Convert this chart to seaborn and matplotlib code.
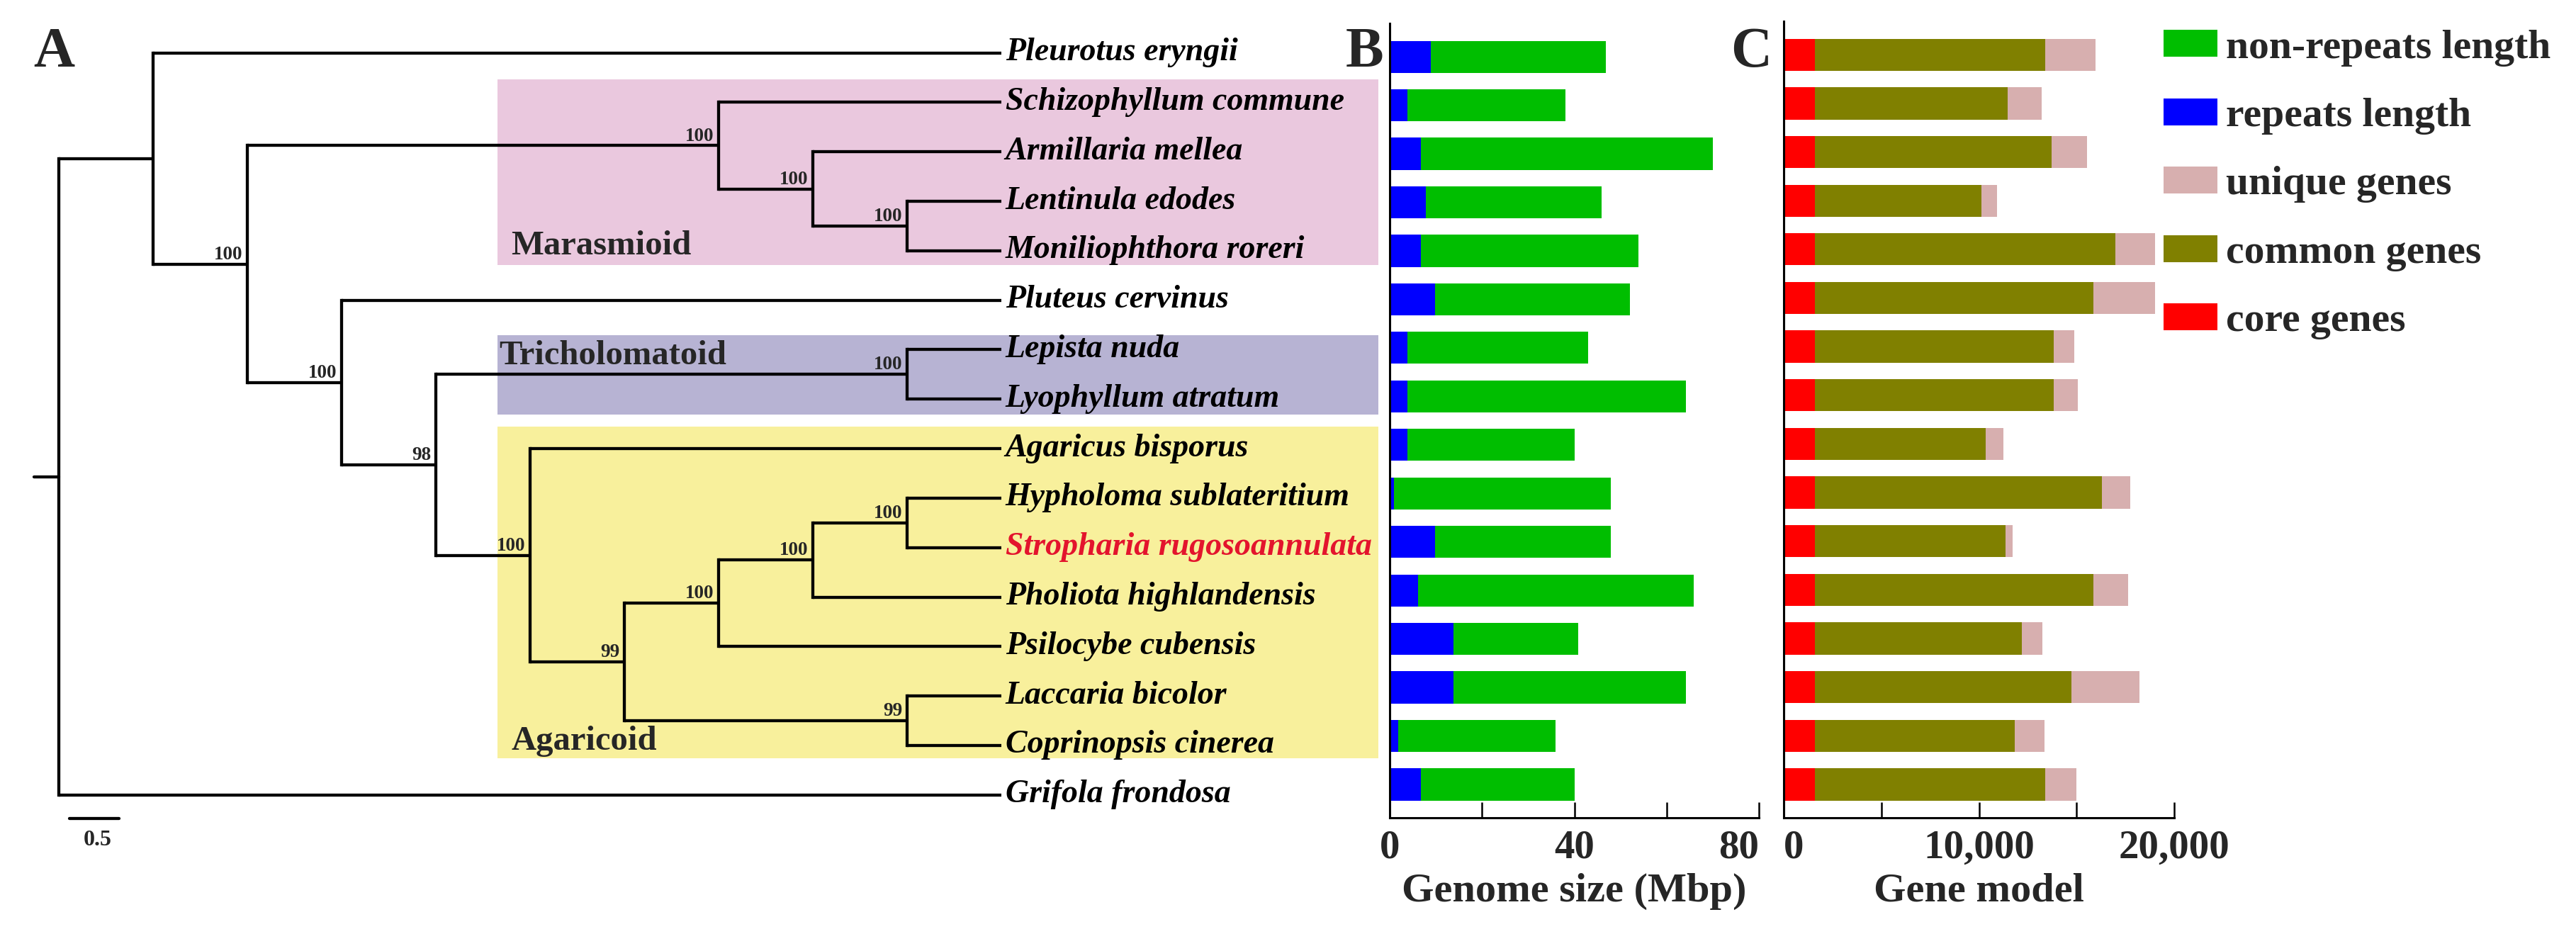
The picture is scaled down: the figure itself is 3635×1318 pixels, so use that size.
import re
import numpy as np
import pandas as pd
import matplotlib
matplotlib.use("Agg")
import matplotlib.pyplot as plt
from matplotlib.patches import Rectangle, Patch
import seaborn as sns

# ---------------- data ----------------
newick = ("((Pleurotus eryngii,((Schizophyllum commune,(Armillaria mellea,"
          "(Lentinula edodes,Moniliophthora roreri)100)100)100,(Pluteus cervinus,"
          "((Lepista nuda,Lyophyllum atratum)100,(Agaricus bisporus,"
          "((((Hypholoma sublateritium,Stropharia rugosoannulata)100,"
          "Pholiota highlandensis)100,Psilocybe cubensis)100,"
          "(Laccaria bicolor,Coprinopsis cinerea)99)99)100)98)100)100),"
          "Grifola frondosa);")

species = ["Pleurotus eryngii", "Schizophyllum commune", "Armillaria mellea",
           "Lentinula edodes", "Moniliophthora roreri", "Pluteus cervinus",
           "Lepista nuda", "Lyophyllum atratum", "Agaricus bisporus",
           "Hypholoma sublateritium", "Stropharia rugosoannulata",
           "Pholiota highlandensis", "Psilocybe cubensis", "Laccaria bicolor",
           "Coprinopsis cinerea", "Grifola frondosa"]

repeats_length = [9.0, 3.9, 6.8, 7.9, 6.8, 9.8, 3.9, 3.9, 3.9, 1.0, 9.8, 6.1, 13.9, 13.9, 1.8, 6.8]
non_repeats_length = [37.8, 34.1, 63.2, 38.0, 47.1, 42.2, 39.1, 60.2, 36.1, 46.9, 38.1, 59.8, 27.0, 50.2, 34.2, 33.2]

core_genes = [1610] * 16
common_genes = [11760, 9869, 12116, 8500, 15376, 14253, 12226, 12226, 8746, 14664, 9760, 14253, 10582, 13130, 10226, 11787]
unique_genes = [2575, 1726, 1808, 822, 2028, 3151, 1041, 1232, 904, 1479, 356, 1753, 1041, 3479, 1506, 1589]

clade_names = ["Marasmioid", "Tricholomatoid", "Agaricoid"]
clade_first = ["Schizophyllum commune", "Lepista nuda", "Agaricus bisporus"]
clade_last = ["Moniliophthora roreri", "Lyophyllum atratum", "Coprinopsis cinerea"]
highlight_species = "Stropharia rugosoannulata"

legend_labels = ["non-repeats length", "repeats length", "unique genes",
                 "common genes", "core genes"]
b_ticks = [0, 40, 80]
b_ticklabels = ["0", "40", "80"]
c_ticks = [0, 10000, 20000]
c_ticklabels = ["0", "10,000", "20,000"]
scale_bar_label = "0.5"

# ---------------- styles ----------------
GREEN = "#00BE00"
BLUE = "#0000FF"
PINK = "#D7AFAF"
OLIVE = "#808000"
RED = "#FF0000"
HIGHLIGHT = "#E3142D"
clade_colors = ["#EAC8DE", "#B7B3D3", "#F8F09C"]

sns.set_theme(style="white")
plt.rcParams["font.family"] = ["Liberation Serif", "DejaVu Serif"]

W, H = 1568.0, 569.0  # layout reference units


def fx(v):
    return v / W


def fy(v):
    return 1 - v / H


fig = plt.figure(figsize=(36.35, 13.18), dpi=100, facecolor="white")

# ---------------- tree ----------------
def parse_newick(s):
    s = s.strip().rstrip(";")
    pos = 0

    def node():
        nonlocal pos
        if s[pos] == "(":
            pos += 1
            children = [node()]
            while s[pos] == ",":
                pos += 1
                children.append(node())
            pos += 1  # ')'
            lab = re.match(r"[^,()]*", s[pos:]).group(0)
            pos += len(lab)
            return {"children": children, "support": lab.strip() or None}
        name = re.match(r"[^,()]+", s[pos:]).group(0)
        pos += len(name)
        return {"name": name.strip(), "children": []}

    return node()


root = parse_newick(newick)
tips = []


def assign(n):
    if not n["children"]:
        n["y"] = len(tips)
        tips.append(n["name"])
        n["h"] = 0
    else:
        for c in n["children"]:
            assign(c)
        n["y"] = (n["children"][0]["y"] + n["children"][-1]["y"]) / 2
        n["h"] = 1 + max(c["h"] for c in n["children"])


assign(root)
MAXH = root["h"]


def setx(n):
    n["x"] = MAXH - n["h"]
    for c in n["children"]:
        setx(c)


setx(root)

# axes mapping: level 0 -> 35.8 units, 57.38 units per level; row0 -> 32.2, 30.14 per row
X0, XS, Y0, YS = 35.8, 57.38, 32.2, 30.14
axt = fig.add_axes([0, 0, 1, 1])
axt.set_xlim(-X0 / XS, (W - X0) / XS)
axt.set_ylim((H - Y0) / YS, -Y0 / YS)
axt.axis("off")

LW = 3.1
row_of = {s: i for i, s in enumerate(tips)}

# clade boxes
box_left, box_right = 4.65, 14.0
top_pads = [0.46, 0.30, 0.44]
bot_pads = [0.29, 0.31, 0.26]
label_dx = [0.15, 0.02, 0.15]
label_y = [row_of[clade_last[0]] + 0.08, row_of[clade_first[1]] + 0.30,
           row_of[clade_last[2]] + 0.09]
for i, name in enumerate(clade_names):
    top = row_of[clade_first[i]] - top_pads[i]
    bot = row_of[clade_last[i]] + bot_pads[i]
    axt.add_patch(Rectangle((box_left, top), box_right - box_left, bot - top,
                            facecolor=clade_colors[i], edgecolor="none", zorder=0))
    axt.text(box_left + label_dx[i], label_y[i], name, fontsize=35,
             fontweight="bold", ha="left", va="baseline", zorder=3)


def draw(n):
    if not n["children"]:
        return
    ys = [c["y"] for c in n["children"]]
    axt.plot([n["x"], n["x"]], [min(ys), max(ys)], color="black", lw=LW,
             solid_capstyle="projecting", zorder=2)
    for c in n["children"]:
        axt.plot([n["x"], c["x"]], [c["y"], c["y"]], color="black", lw=LW,
                 solid_capstyle="butt", zorder=2)
        draw(c)
    if n.get("support"):
        axt.text(n["x"] - 0.05, n["y"] - 0.1, n["support"], fontsize=19.5,
                 fontweight="bold", ha="right", va="baseline", zorder=3)


draw(root)
# root stub
axt.plot([-0.265, root["x"]], [root["y"], root["y"]], color="black", lw=LW, zorder=2)

# tip labels
for name in tips:
    axt.text(MAXH + 0.04, row_of[name] + 0.15, name, fontsize=33,
             fontweight="bold", fontstyle="italic", ha="left", va="baseline",
             color=HIGHLIGHT if name == highlight_species else "black", zorder=3)

# scale bar
axt.plot([0.115, 0.64], [15.48, 15.48], color="black", lw=LW)
axt.text(0.41, 16.02, scale_bar_label, fontsize=23, fontweight="bold",
         ha="center", va="baseline")

# ---------------- bar data frames ----------------
dfB = pd.DataFrame({"species": species,
                    "repeats": repeats_length,
                    "nonrepeats": non_repeats_length})
dfB["total"] = dfB["repeats"] + dfB["nonrepeats"]

dfC = pd.DataFrame({"species": species, "core": core_genes,
                    "common": common_genes, "unique": unique_genes})
dfC["core_common"] = dfC["core"] + dfC["common"]
dfC["total"] = dfC["core_common"] + dfC["unique"]

BAR_W = 0.66
YLIM = (15.68, -0.683)


def style_axis(ax, xlim, ticks, ticklabels, minor, xlabel):
    ax.set_xlim(*xlim)
    ax.set_ylim(*YLIM)
    ax.set_xticks(ticks)
    ax.set_xticklabels(ticklabels)
    ax.set_xticks(minor, minor=True)
    ax.tick_params(axis="x", which="both", direction="in", length=16, width=1.8,
                   color="black", bottom=True, pad=12)
    ax.tick_params(axis="y", left=False, labelleft=False)
    for lbl in ax.get_xticklabels():
        lbl.set_fontsize(41)
        lbl.set_fontweight("bold")
    ax.set_xlabel(xlabel, fontsize=42, fontweight="bold", labelpad=7)
    ax.set_ylabel("")
    for s in ["top", "right"]:
        ax.spines[s].set_visible(False)
    for s in ["left", "bottom"]:
        ax.spines[s].set_color("black")
        ax.spines[s].set_linewidth(2.2)
    ax.set_facecolor("none")


# B
axB = fig.add_axes([fx(845.8), fy(498), fx(1070.8) - fx(845.8), (498 - 14.4) / H])
sns.barplot(data=dfB, x="total", y="species", order=species, orient="h",
            color=GREEN, saturation=1, width=BAR_W, errorbar=None, linewidth=0, ax=axB)
sns.barplot(data=dfB, x="repeats", y="species", order=species, orient="h",
            color=BLUE, saturation=1, width=BAR_W, errorbar=None, linewidth=0, ax=axB)
style_axis(axB, (0, 80), b_ticks, b_ticklabels, [20, 60], "Genome size (Mbp)")
axB.get_xticklabels()[-1].set_ha("right")

# C
axC = fig.add_axes([fx(1085.6), fy(498), (1323.6 - 1085.6) / W, (498 - 13.1) / H])
sns.barplot(data=dfC, x="total", y="species", order=species, orient="h",
            color=PINK, saturation=1, width=BAR_W, errorbar=None, linewidth=0, ax=axC)
sns.barplot(data=dfC, x="core_common", y="species", order=species, orient="h",
            color=OLIVE, saturation=1, width=BAR_W, errorbar=None, linewidth=0, ax=axC)
sns.barplot(data=dfC, x="core", y="species", order=species, orient="h",
            color=RED, saturation=1, width=BAR_W, errorbar=None, linewidth=0, ax=axC)
style_axis(axC, (0, 20000), c_ticks, c_ticklabels, [5000, 15000], "Gene model")
axC.get_xticklabels()[0].set_ha("left")

# legend
handles = [Patch(facecolor=c, edgecolor="none") for c in [GREEN, BLUE, PINK, OLIVE, RED]]
fig.legend(handles, legend_labels, loc="upper left",
           bbox_to_anchor=(fx(1317), fy(18)), frameon=False,
           prop={"family": "Liberation Serif", "weight": "bold", "size": 41.5},
           handlelength=1.31, handleheight=0.64, handletextpad=0.21,
           labelspacing=0.77, borderpad=0, borderaxespad=0)

# panel letters
for letter, x in zip(["A", "B", "C"], [33, 830.7, 1066]):
    fig.text(fx(x), fy(40.5), letter, fontsize=58, fontweight="bold",
             ha="center", va="baseline")

fig.savefig("out.png", dpi=100, facecolor="white")
